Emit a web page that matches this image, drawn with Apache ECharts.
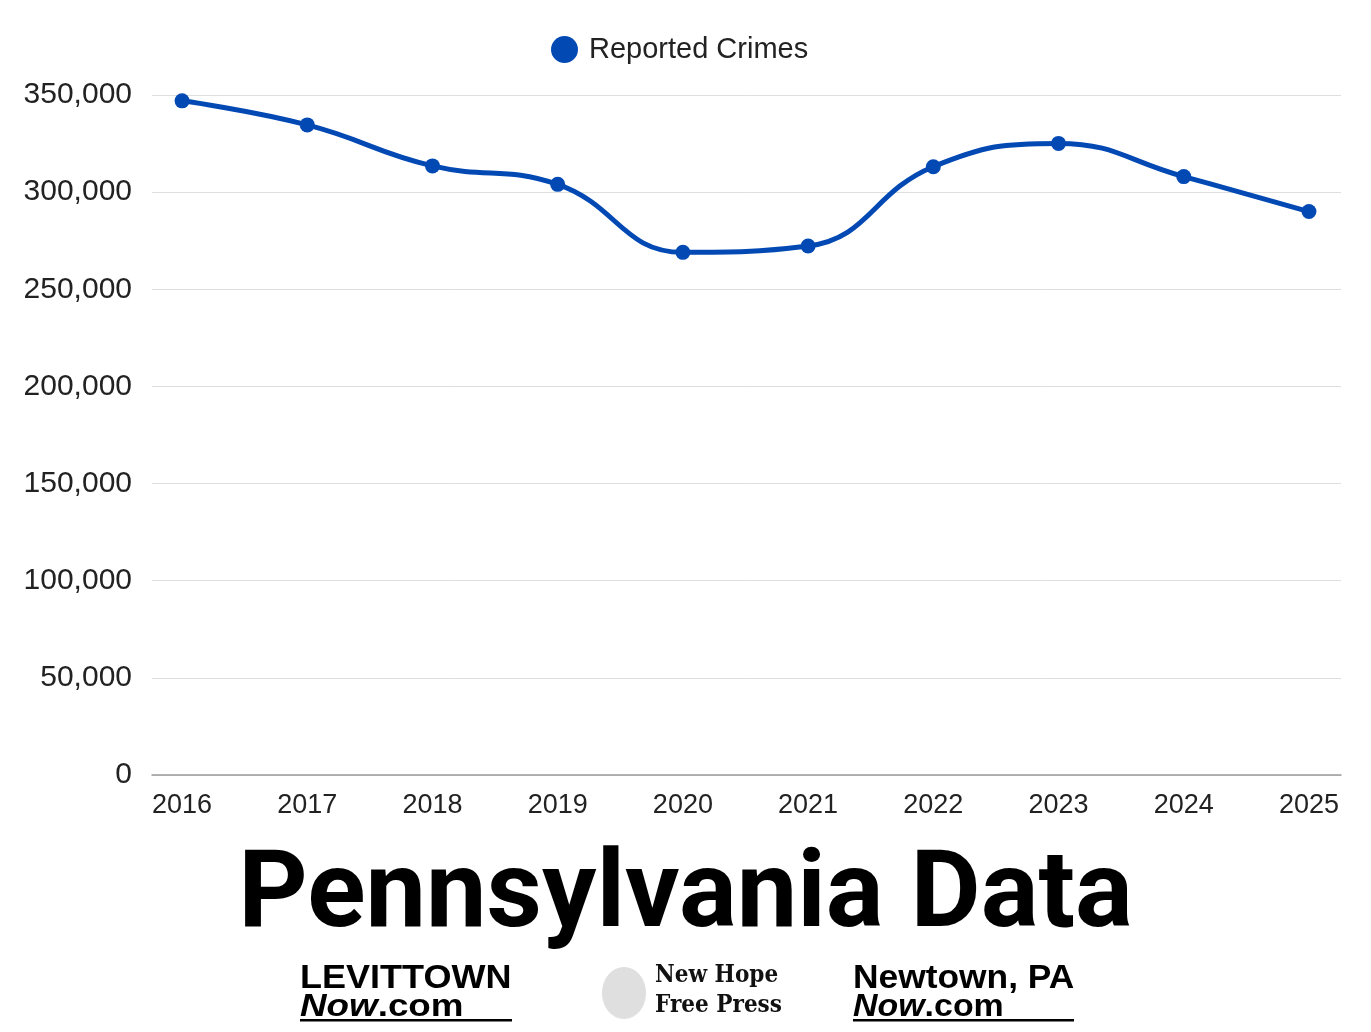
<!DOCTYPE html>
<html>
<head>
<meta charset="UTF-8">
<title>Pennsylvania Data</title>
<style>
  html, body { margin: 0; padding: 0; background: #fff; }
  #main { width: 1371px; height: 1032px; }
</style>
</head>
<body>
<div id="main"></div>
<script src="https://cdn.jsdelivr.net/npm/echarts@6/dist/echarts.min.js"></script>
<script>
// values
var years = [2016, 2017, 2018, 2019, 2020, 2021, 2022, 2023, 2024, 2025];
var crimes = [347000, 334600, 313500, 304000, 269000, 272300, 313100, 325100, 308000, 290000];
var yTicks = [0, 50000, 100000, 150000, 200000, 250000, 300000, 350000];
var seriesName = 'Reported Crimes';

var blue = '#0349b4';
var points = years.map(function (y, i) { return [y, crimes[i]]; });

// small helper for the masthead logos at the bottom
function logoText(x, y, text, size, sx) {
    return {
        type: 'text', x: x, y: y, scaleX: sx, originX: 0, originY: 0,
        style: { text: text, font: 'bold ' + size + 'px "Liberation Sans"', fill: '#000', verticalAlign: 'top' }
    };
}
function nowCom(x, y, sx) {
    return {
        type: 'text', x: x, y: y, scaleX: sx, originX: 0, originY: 0,
        style: {
            text: '{a|Now}{b|.com}', verticalAlign: 'top',
            rich: {
                a: { font: 'italic bold 32px "Liberation Sans"', fill: '#000' },
                b: { font: 'bold 32px "Liberation Sans"', fill: '#000' }
            }
        }
    };
}

var chart = echarts.init(document.getElementById('main'));
chart.setOption({
    backgroundColor: '#fff',
    animation: false,
    textStyle: { fontFamily: '"Liberation Sans", Arial, sans-serif' },
    legend: {
        top: 30,
        left: 546,
        itemWidth: 27,
        itemHeight: 27,
        icon: 'circle',
        textStyle: { fontSize: 29, color: '#222', padding: [0, 0, 0, 6] },
        data: [seriesName]
    },
    grid: { left: 152, right: 30, top: 95, bottom: 257, containLabel: false },
    xAxis: {
        type: 'value',
        min: 2015.76,
        max: 2025.256,
        splitLine: { show: false },
        axisTick: { show: false },
        axisLine: { show: true, lineStyle: { color: '#9a9a9a', width: 1.5 } },
        axisLabel: {
            customValues: years,
            formatter: function (v) { return String(v); },
            fontSize: 27,
            color: '#222',
            margin: 17
        }
    },
    yAxis: {
        type: 'value',
        min: yTicks[0],
        max: yTicks[yTicks.length - 1],
        interval: 50000,
        axisLine: { show: false },
        axisTick: { show: false },
        splitLine: { lineStyle: { color: '#dedede', width: 1 } },
        axisLabel: {
            fontSize: 30,
            color: '#222',
            margin: 20,
            formatter: function (v) { return v.toLocaleString('en-US'); }
        }
    },
    series: [{
        name: seriesName,
        type: 'line',
        data: points,
        smooth: 0.45,
        symbol: 'circle',
        symbolSize: 15,
        itemStyle: { color: blue },
        lineStyle: { color: blue, width: 5 }
    }],
    graphic: [
        {
            type: 'text', left: 'center', top: 845,
            style: { text: 'Pennsylvania Data', font: 'bold 108px Roboto', fill: '#000' }
        },
        logoText(300, 962, 'LEVITTOWN', 34, 1.06),
        nowCom(300, 991, 1.15),
        { type: 'rect', shape: { x: 300, y: 1019, width: 212, height: 2.5 }, style: { fill: '#000' } },
        logoText(853, 962, 'Newtown, PA', 34, 1.04),
        nowCom(853, 991, 1.06),
        { type: 'rect', shape: { x: 853, y: 1019, width: 221, height: 2.5 }, style: { fill: '#000' } },
        {
            type: 'text', left: 655, top: 964,
            style: { text: 'New Hope', font: 'bold 24px "DejaVu Serif Condensed"', fill: '#111' }
        },
        {
            type: 'text', left: 655, top: 994,
            style: { text: 'Free Press', font: 'bold 24px "DejaVu Serif Condensed"', fill: '#111' }
        },
        {
            type: 'ellipse', shape: { cx: 624, cy: 993, rx: 22, ry: 26 },
            style: { fill: '#c4c4c4', opacity: 0.55 }
        }
    ]
});
</script>
</body>
</html>
